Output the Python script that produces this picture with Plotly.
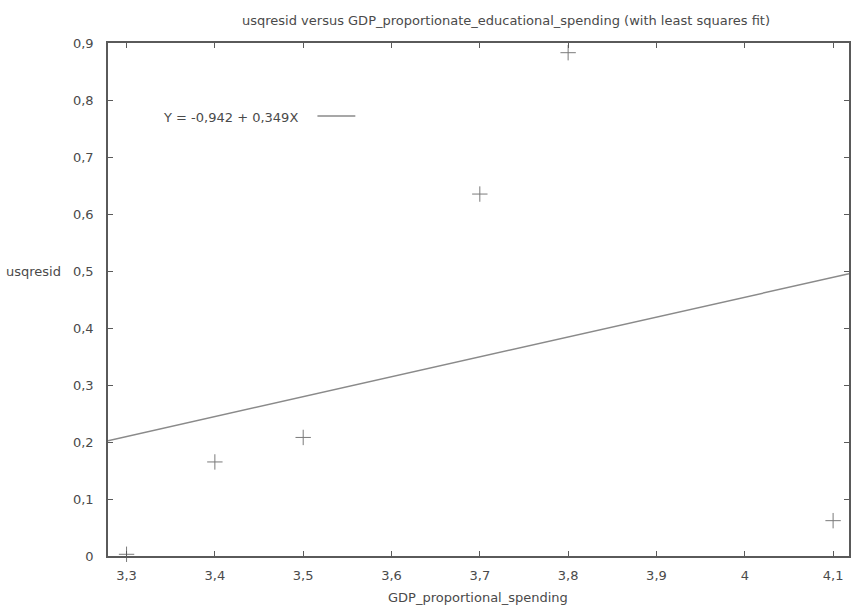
import plotly.graph_objects as go

# Data
gdp_spending = [3.3, 3.4, 3.5, 3.7, 3.8, 4.1]
usqresid = [0.003, 0.165, 0.208, 0.635, 0.883, 0.062]
intercept = -0.942
slope = 0.349
x_range = [3.279, 4.118]
y_range = [0.0, 0.9]
x_ticks = [3.3, 3.4, 3.5, 3.6, 3.7, 3.8, 3.9, 4.0, 4.1]
x_ticktext = ["3,3", "3,4", "3,5", "3,6", "3,7", "3,8", "3,9", "4", "4,1"]
y_ticks = [0, 0.1, 0.2, 0.3, 0.4, 0.5, 0.6, 0.7, 0.8, 0.9]
y_ticktext = ["0", "0,1", "0,2", "0,3", "0,4", "0,5", "0,6", "0,7", "0,8", "0,9"]

title_text = "usqresid versus GDP_proportionate_educational_spending (with least squares fit)"
fit_label = "Y = -0,942 + 0,349X"

FONT = "DejaVu Sans"
TXT = "#4a4a4a"
AX = "#5a5a5a"
FS = 13

fit_x = x_range
fit_y = [intercept + slope * v for v in fit_x]

fig = go.Figure()
fig.add_trace(go.Scatter(
    x=fit_x, y=fit_y, mode="lines",
    line=dict(color="#8a8a8a", width=1.5),
    showlegend=False, hoverinfo="skip"))
fig.add_trace(go.Scatter(
    x=gdp_spending, y=usqresid, mode="markers",
    marker=dict(symbol="cross-thin", size=11,
                line=dict(color="#7a7a7a", width=1), color="#7a7a7a"),
    showlegend=False, cliponaxis=False))

W, H = 851, 607
L, R, T, B = 108, 0, 43, 51

fig.update_layout(
    width=W, height=H,
    margin=dict(l=L, r=R, t=T, b=B),
    paper_bgcolor="white", plot_bgcolor="white",
    font=dict(family=FONT, size=FS, color=TXT),
    showlegend=False,
    xaxis=dict(range=x_range, tickvals=x_ticks, ticktext=x_ticktext,
               showgrid=False, zeroline=False, showline=True, mirror="ticks",
               linecolor=AX, linewidth=1.5, ticks="inside", ticklen=5,
               tickcolor=AX, tickfont=dict(size=FS, color=TXT), ticklabelstandoff=7),
    yaxis=dict(range=y_range, tickvals=y_ticks, ticktext=y_ticktext,
               showgrid=False, zeroline=False, showline=True, mirror="ticks",
               linecolor=AX, linewidth=1.5, ticks="inside", ticklen=5,
               tickcolor=AX, tickfont=dict(size=FS, color=TXT), ticklabelstandoff=10),
)

fig.add_annotation(text=title_text, xref="paper", yref="paper",
                   x=(507 - L) / (W - L - R), y=1 + (T - 20) / (H - T - B),
                   xanchor="center", yanchor="middle", showarrow=False,
                   font=dict(size=FS, color=TXT))
fig.add_annotation(text="usqresid", xref="paper", yref="paper",
                   x=-(L - 4) / (W - L - R), y=(H - B - 271) / (H - T - B),
                   xanchor="left", yanchor="middle", showarrow=False,
                   font=dict(size=FS, color=TXT))
fig.add_annotation(text="GDP_proportional_spending", xref="paper", yref="paper",
                   x=(479 - L) / (W - L - R), y=-(597 - (H - B)) / (H - T - B),
                   xanchor="center", yanchor="middle", showarrow=False,
                   font=dict(size=FS, color=TXT))
# legend (gnuplot style: text then sample)
fig.add_annotation(text=fit_label, xref="paper", yref="paper",
                   x=(301 - L) / (W - L - R), y=(H - B - 117) / (H - T - B),
                   xanchor="right", yanchor="middle", showarrow=False,
                   font=dict(size=FS, color=TXT))
fig.add_shape(type="line", xref="paper", yref="paper",
              x0=(318 - L) / (W - L - R), x1=(356 - L) / (W - L - R),
              y0=(H - B - 116) / (H - T - B), y1=(H - B - 116) / (H - T - B),
              line=dict(color="#8a8a8a", width=1.5))

fig.write_html("out.html")
